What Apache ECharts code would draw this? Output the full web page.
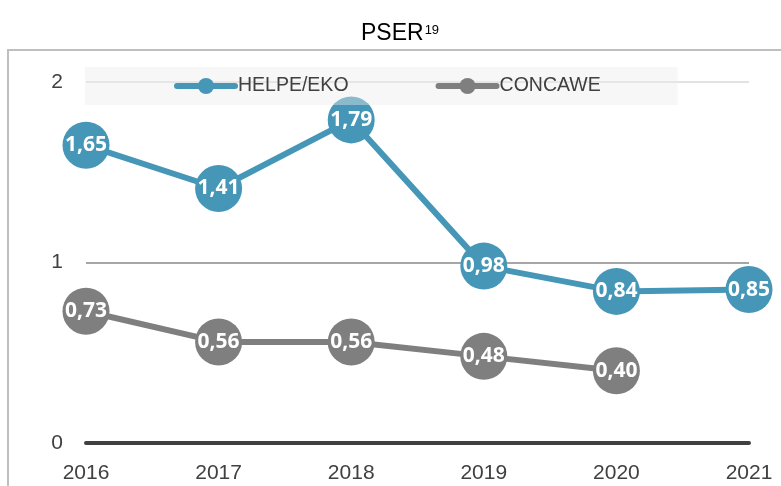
<!DOCTYPE html>
<html>
<head>
<meta charset="utf-8">
<script src="https://cdn.jsdelivr.net/npm/echarts@6/dist/echarts.min.js"></script>
<style>
  html, body { margin: 0; padding: 0; background: #fff; }
  #main { width: 781px; height: 486px; }
</style>
</head>
<body>
<div id="main"></div>
<script>
// data
var years = ['2016', '2017', '2018', '2019', '2020', '2021'];
var helpe = [1.65, 1.41, 1.79, 0.98, 0.84, 0.85];
var concawe = [0.73, 0.56, 0.56, 0.48, 0.40, null];
var yTicks = [0, 1, 2];

var blue = '#4697b7';
var grey = '#7f7f7f';
var textGrey = '#404040';
var font = '"Liberation Sans", Arial, sans-serif';
var labelFont = '"Open Sans", "Liberation Sans", sans-serif';

function commaLabel(p) {
  return p.value == null ? '' : p.value.toFixed(2).replace('.', ',');
}

function lineSeries(name, values, color) {
  return {
    name: name,
    type: 'line',
    data: values,
    color: color,
    symbol: 'circle',
    symbolSize: 47,
    lineStyle: { width: 6, color: color },
    itemStyle: { color: color },
    label: {
      show: true,
      position: 'inside',
      formatter: commaLabel,
      color: '#fff',
      fontWeight: 'bold',
      fontSize: 21,
      fontFamily: labelFont
    },
    emphasis: { disabled: true },
    animation: false
  };
}

var chart = echarts.init(document.getElementById('main'), null, { renderer: 'canvas' });

var option = {
  backgroundColor: '#fff',
  animation: false,
  title: {
    left: 356,
    top: 16,
    text: 'PSER{sup|19}',
    textStyle: {
      fontFamily: font,
      fontSize: 23,
      fontWeight: 'normal',
      color: '#000',
      lineHeight: 26,
      rich: {
        sup: { fontSize: 13, lineHeight: 13, verticalAlign: 'top', padding: [3, 0, 0, 1], color: '#000', fontFamily: font }
      }
    }
  },
  graphic: [{
    type: 'rect',
    z: -1,
    shape: { x: 8, y: 50, width: 820, height: 500 },
    style: { fill: null, stroke: '#bfbfbf', lineWidth: 2 },
    silent: true
  }],
  legend: {
    left: 85,
    top: 67,
    padding: [9, 77, 9, 89],
    itemGap: 87,
    itemWidth: 58,
    itemHeight: 20,
    backgroundColor: 'rgba(236,236,236,0.42)',
    lineStyle: { width: 6, cap: 'round' },
    textStyle: { fontFamily: font, fontSize: 19.5, color: textGrey, padding: [0, 0, 0, -2] },
    data: ['HELPE/EKO', 'CONCAWE']
  },
  grid: {
    left: 86,
    right: 32,
    top: 82,
    bottom: 43,
    containLabel: false,
    outerBoundsMode: 'none'
  },
  xAxis: {
    type: 'category',
    data: years,
    boundaryGap: false,
    axisLine: { show: true, lineStyle: { color: textGrey, width: 4 } },
    axisTick: { show: false },
    axisLabel: { fontFamily: font, fontSize: 21, color: textGrey, margin: 20 },
    splitLine: { show: false }
  },
  yAxis: {
    type: 'value',
    min: yTicks[0],
    max: yTicks[yTicks.length - 1],
    interval: 1,
    axisLine: { show: false },
    axisTick: { show: false },
    axisLabel: { fontFamily: font, fontSize: 21, color: textGrey, margin: 23 },
    splitLine: { show: true, lineStyle: { color: ['#a6a6a6', '#a6a6a6', '#e2e2e2'], width: 2 } }
  },
  series: [
    lineSeries('HELPE/EKO', helpe, blue),
    lineSeries('CONCAWE', concawe, grey)
  ]
};

chart.setOption(option);
</script>
</body>
</html>
